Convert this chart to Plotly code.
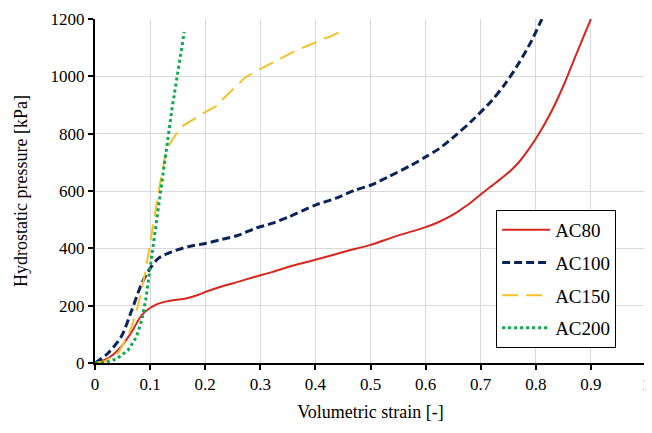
import plotly.graph_objects as go

ac80_x = [0, 0.024, 0.048, 0.067, 0.085, 0.1, 0.115, 0.13, 0.145, 0.165, 0.188, 0.206, 0.23, 0.261, 0.291, 0.321, 0.352, 0.4, 0.454, 0.5, 0.544, 0.6, 0.624, 0.645, 0.66, 0.681, 0.7, 0.72, 0.74, 0.757, 0.77, 0.785, 0.8, 0.825, 0.849, 0.873, 0.9]
ac80_y = [0, 17, 58, 110, 168, 192, 207, 215, 220, 225, 238, 252, 267, 284, 301, 317, 336, 360, 389, 412, 441, 474, 492, 512, 530, 558, 588, 618, 648, 676, 702, 740, 782, 865, 962, 1075, 1200]

ac100_x = [0, 0.024, 0.048, 0.067, 0.085, 0.1, 0.115, 0.139, 0.17, 0.2, 0.23, 0.261, 0.291, 0.321, 0.352, 0.4, 0.436, 0.472, 0.5, 0.532, 0.574, 0.6, 0.624, 0.655, 0.684, 0.72, 0.744, 0.768, 0.792, 0.811]
ac100_y = [0, 35, 93, 186, 278, 330, 365, 388, 406, 417, 431, 446, 470, 487, 510, 551, 574, 603, 620, 649, 690, 719, 747, 795, 845, 915, 973, 1042, 1123, 1200]

ac150_x = [0, 0.018, 0.042, 0.061, 0.073, 0.082, 0.091, 0.1, 0.109, 0.118, 0.127, 0.136, 0.147, 0.161, 0.2, 0.218, 0.236, 0.255, 0.273, 0.297, 0.318, 0.342, 0.364, 0.4, 0.412, 0.425, 0.448]
ac150_y = [0, 6, 35, 99, 162, 232, 313, 417, 533, 626, 719, 765, 798, 829, 875, 893, 928, 962, 997, 1023, 1043, 1067, 1089, 1118, 1130, 1137, 1158]

ac200_x = [0, 0.02, 0.04, 0.06, 0.075, 0.085, 0.092, 0.1, 0.11, 0.12, 0.13, 0.14, 0.15, 0.162]
ac200_y = [0, 2, 15, 45, 90, 150, 220, 330, 480, 620, 760, 890, 1010, 1155]

x_tickvals = [0, 0.1, 0.2, 0.3, 0.4, 0.5, 0.6, 0.7, 0.8, 0.9, 1]
x_ticktext = ["0", "0.1", "0.2", "0.3", "0.4", "0.5", "0.6", "0.7", "0.8", "0.9", "1"]
y_tickvals = [0, 200, 400, 600, 800, 1000, 1200]

series = [
    ("AC80", ac80_x, ac80_y, "#D7261E", 2, "solid", "spline"),
    ("AC100", ac100_x, ac100_y, "#0B2458", 3, "8px,4px", "spline"),
    ("AC150", ac150_x, ac150_y, "#F5C02C", 2, "16px,8px", "linear"),
    ("AC200", ac200_x, ac200_y, "#10A84E", 3, "dot", "linear"),
]

FONT = "Liberation Serif"
fig = go.Figure()
for name, xs, ys, color, w, dash, shape in series:
    line = dict(color=color, width=w, dash=dash, shape=shape)
    if shape == "spline":
        line["smoothing"] = 0.8
    fig.add_trace(go.Scatter(x=xs, y=ys, name=name, mode="lines", legendgroup=name,
                             line=line))

axis_common = dict(showline=True, linecolor="black", linewidth=2, ticks="outside",
                   ticklen=5, tickwidth=1.5, tickcolor="black", gridcolor="#d9d9d9",
                   gridwidth=1, zeroline=False, mirror=False, ticklabeloverflow="allow",
                   tickfont=dict(family=FONT, size=17, color="black"))

# page body has an 8px margin, so the figure is offset by 8px in the window
fig.update_layout(
    width=644, height=417,
    margin=dict(l=87, r=2, t=9, b=62),
    paper_bgcolor="white", plot_bgcolor="white",
    font=dict(family=FONT, size=17, color="black"),
    xaxis=dict(range=[0, 1], tickmode="array", tickvals=x_tickvals, ticktext=x_ticktext,
               title=dict(text="Volumetric strain [-]", font=dict(family=FONT, size=18), standoff=12),
               **axis_common),
    yaxis=dict(range=[0, 1200], tickmode="array", tickvals=y_tickvals,
               title=dict(text="Hydrostatic pressure [kPa]", font=dict(family=FONT, size=18), standoff=18),
               **axis_common),
    legend=dict(x=0.728, y=0.445, xanchor="left", yanchor="top",
                bordercolor="black", borderwidth=1, bgcolor="white", itemwidth=48,
                font=dict(family=FONT, size=19), tracegroupgap=5),
    showlegend=True,
)

fig.write_html("out.html")
